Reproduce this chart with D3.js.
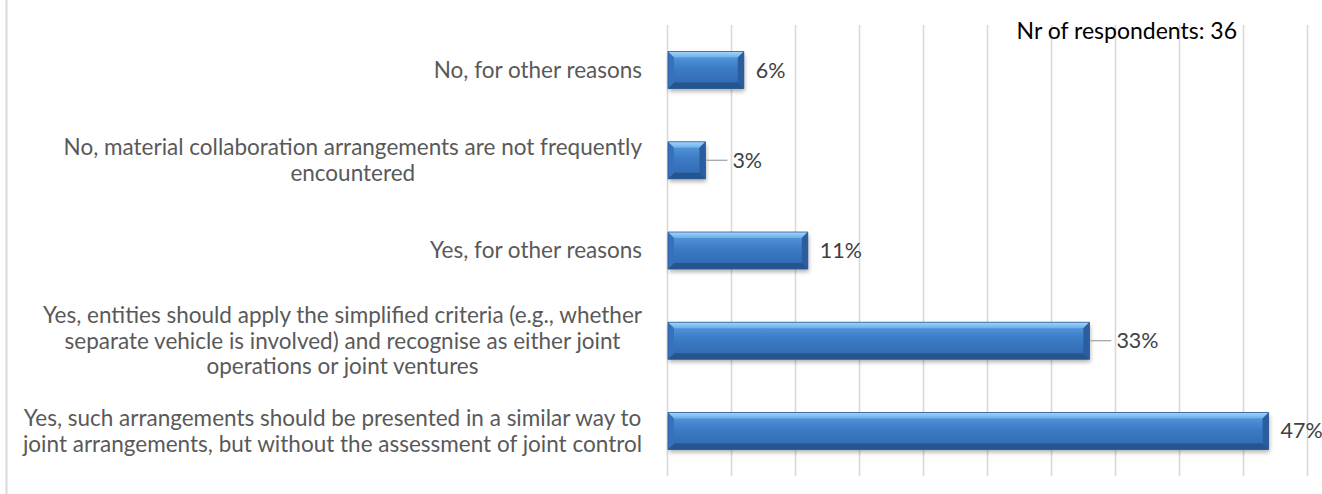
<!DOCTYPE html>
<html>
<head>
<meta charset="utf-8">
<script src="https://cdn.jsdelivr.net/npm/d3@7"></script>
<style>
  html, body { margin: 0; padding: 0; background: #ffffff; }
  svg { display: block; }
</style>
</head>
<body>
<svg id="chart" width="1322" height="494"></svg>
<script>
// Survey answers, top to bottom, each split into its display lines
const categories = [
  ["No, for other reasons"],
  ["No, material collaboration arrangements are not frequently", "encountered"],
  ["Yes, for other reasons"],
  ["Yes, entities should apply the simplified criteria (e.g., whether",
   "separate vehicle is involved) and recognise as either joint",
   "operations or joint ventures"],
  ["Yes, such arrangements should be presented in a similar way to",
   "joint arrangements, but without the assessment of joint control"]
];
// Share of respondents (%)
const shares = [6, 3, 11, 33, 47];
// Labels that sit further out and are tied back to the bar with a leader line
const hasLeader = [false, true, false, true, false];
// Gridline values (%)
const gridTicks = [0, 5, 10, 15, 20, 25, 30, 35, 40, 45, 50];
const respondents = 36;

const svg = d3.select("#chart");
const FONT = "Lato, 'Open Sans', sans-serif";

const plot = { left: 667, right: 1307, top: 25, bottom: 476 };

const x = d3.scaleLinear().domain([0, 50]).range([plot.left, plot.right]);
const y = d3.scaleBand()
  .domain(d3.range(categories.length))
  .range([plot.top, plot.bottom])
  .paddingInner(0.59)
  .paddingOuter(0.295);

// Outer chart frame (only the left edge falls inside the view)
svg.append("line")
  .attr("x1", 6.5).attr("x2", 6.5).attr("y1", 0).attr("y2", 494)
  .attr("stroke", "#d9d9d9").attr("stroke-width", 2);

// Vertical gridlines
const grid = svg.append("g")
  .attr("transform", `translate(0,${plot.bottom})`)
  .call(d3.axisBottom(x).tickValues(gridTicks)
    .tickSize(-(plot.bottom - plot.top)).tickFormat(""));
grid.select(".domain").remove();
grid.selectAll(".tick line").attr("stroke", "#d9d9d9").attr("stroke-width", 1.6);

// Gradients and shadow for the bevelled bars
const defs = svg.append("defs");
const body = defs.append("linearGradient").attr("id", "barBody")
  .attr("x1", 0).attr("y1", 0).attr("x2", 0).attr("y2", 1);
body.append("stop").attr("offset", "0%").attr("stop-color", "#5b9fe2");
body.append("stop").attr("offset", "45%").attr("stop-color", "#3c7bc5");
body.append("stop").attr("offset", "100%").attr("stop-color", "#2f67ac");
const topBevel = defs.append("linearGradient").attr("id", "barTop")
  .attr("x1", 0).attr("y1", 0).attr("x2", 0).attr("y2", 1);
topBevel.append("stop").attr("offset", "0%").attr("stop-color", "#a4d6fa");
topBevel.append("stop").attr("offset", "100%").attr("stop-color", "#6aaee9");
const shadow = defs.append("filter").attr("id", "barShadow")
  .attr("x", "-5%").attr("y", "-30%").attr("width", "110%").attr("height", "170%");
shadow.append("feGaussianBlur").attr("stdDeviation", 2);

const bars = svg.append("g").selectAll("g")
  .data(shares.map((v, i) => ({ v, i })))
  .join("g");

const b = 6; // bevel size
bars.each(function (d) {
  const g = d3.select(this);
  const x0 = x(0) + 1, x1 = x(d.v);
  const y0 = y(d.i), y1 = y(d.i) + y.bandwidth();
  g.append("rect")
    .attr("x", x0 + 1).attr("y", y0 + 3)
    .attr("width", x1 - x0).attr("height", y1 - y0)
    .attr("fill", "#000").attr("opacity", 0.3)
    .attr("filter", "url(#barShadow)");
  g.append("rect")
    .attr("x", x0).attr("y", y0)
    .attr("width", x1 - x0).attr("height", y1 - y0)
    .attr("fill", "url(#barBody)");
  const poly = (pts, fill) => g.append("polygon")
    .attr("points", pts.map(p => p.join(",")).join(" "))
    .attr("fill", fill);
  poly([[x0, y0], [x1, y0], [x1 - b, y0 + b], [x0 + b, y0 + b]], "url(#barTop)");
  poly([[x0, y1], [x1, y1], [x1 - b, y1 - b], [x0 + b, y1 - b]], "#25558f");
  poly([[x0, y0], [x0 + b, y0 + b], [x0 + b, y1 - b], [x0, y1]], "#3572bb");
  poly([[x1, y0], [x1 - b, y0 + b], [x1 - b, y1 - b], [x1, y1]], "#2b5e9f");
  g.append("rect")
    .attr("x", x0).attr("y", y0)
    .attr("width", x1 - x0).attr("height", y1 - y0)
    .attr("fill", "none").attr("stroke", "#2a5a94").attr("stroke-width", 0.8);
});

// Value labels
const cy = i => y(i) + y.bandwidth() / 2;
bars.each(function (d) {
  const g = d3.select(this);
  const gap = hasLeader[d.i] ? 27 : 12;
  if (hasLeader[d.i]) {
    g.append("line")
      .attr("x1", x(d.v) + 1).attr("x2", x(d.v) + gap - 5)
      .attr("y1", cy(d.i)).attr("y2", cy(d.i))
      .attr("stroke", "#a6a6a6").attr("stroke-width", 1.3);
  }
  g.append("text")
    .attr("x", x(d.v) + gap).attr("y", cy(d.i))
    .attr("dy", "0.35em")
    .attr("font-family", FONT).attr("font-size", 21.5)
    .attr("fill", "#404040")
    .text(d3.format(".0f")(d.v) + "%");
});

// Category labels: the block is right-aligned, lines centred within it
const labelRight = 642, lineH = 25.5;
const labels = svg.append("g");
categories.forEach((lines, i) => {
  const t = labels.append("g");
  const texts = lines.map((ln, k) => t.append("text")
    .attr("font-family", FONT).attr("font-size", 22.5)
    .attr("fill", "#595959")
    .attr("text-anchor", "middle")
    .attr("y", cy(i) + (k - (lines.length - 1) / 2) * lineH)
    .attr("dy", "0.35em")
    .text(ln));
  const w = d3.max(texts, s => s.node().getComputedTextLength());
  texts.forEach(s => s.attr("x", labelRight - w / 2));
});

// Respondent count
svg.append("text")
  .attr("x", 1237).attr("y", 31).attr("dy", "0.35em")
  .attr("text-anchor", "end")
  .attr("font-family", FONT).attr("font-size", 23)
  .attr("fill", "#000000")
  .text(`Nr of respondents: ${respondents}`);
</script>
</body>
</html>
